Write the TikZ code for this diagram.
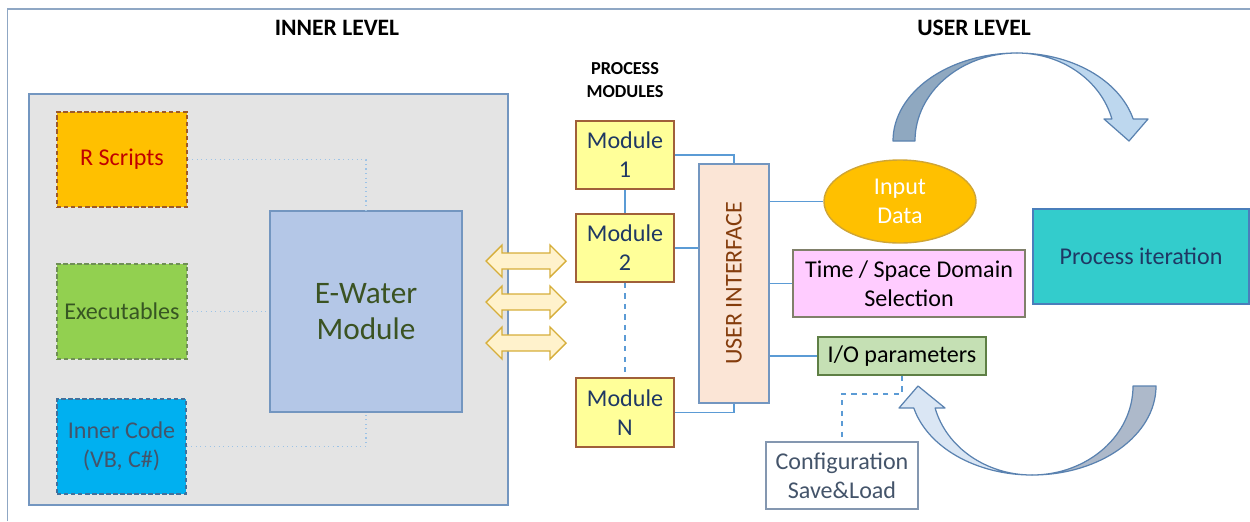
\documentclass[tikz,border=0pt]{standalone}
\usepackage{fontspec}
\setmainfont{Carlito}
\usetikzlibrary{shapes.geometric}

\definecolor{frameblue}{HTML}{8FA7C4}
\definecolor{grayfill}{HTML}{E4E4E4}
\definecolor{boxblue}{HTML}{7396C0}
\definecolor{dotblue}{HTML}{9DC3E6}
\definecolor{linkblue}{HTML}{5B9BD5}
\definecolor{rfill}{HTML}{FFC000}
\definecolor{rdraw}{HTML}{9C5A2A}
\definecolor{rtext}{HTML}{C00000}
\definecolor{exfill}{HTML}{92D050}
\definecolor{exdraw}{HTML}{6F8F55}
\definecolor{extext}{HTML}{375623}
\definecolor{icfill}{HTML}{00B0F0}
\definecolor{icdraw}{HTML}{41719C}
\definecolor{ictext}{HTML}{44546A}
\definecolor{ewfill}{HTML}{B4C7E7}
\definecolor{ewtext}{HTML}{3B5323}
\definecolor{modfill}{HTML}{FFFF99}
\definecolor{moddraw}{HTML}{A0603A}
\definecolor{navy}{HTML}{1F3864}
\definecolor{uifill}{HTML}{FBE5D6}
\definecolor{uitext}{HTML}{843C0C}
\definecolor{indraw}{HTML}{CFA535}
\definecolor{tsfill}{HTML}{FFCCFF}
\definecolor{tsdraw}{HTML}{80806A}
\definecolor{iofill}{HTML}{C5E0B4}
\definecolor{iodraw}{HTML}{5E7F45}
\definecolor{procfill}{HTML}{33CCCC}
\definecolor{procdraw}{HTML}{4A7EBB}
\definecolor{confdraw}{HTML}{8497B0}
\definecolor{dblfill}{HTML}{FFF2CC}
\definecolor{dbldraw}{HTML}{D6AE3A}
\definecolor{cvdraw}{HTML}{5A82B0}
\definecolor{cvdarkA}{HTML}{8FA8C0}
\definecolor{cvlightA}{HTML}{BDD7EE}
\definecolor{cvdarkB}{HTML}{ADB9CA}
\definecolor{cvlightB}{HTML}{DAE6F4}

\tikzset{
  every node/.style={font=\fontsize{13.7}{16.6}\selectfont, align=center, inner sep=0pt},
  box/.style={draw, line width=0.8pt, rectangle},
  dbox/.style={box, dashed, dash pattern=on 2.5pt off 1.5pt},
  dotline/.style={dotblue, line width=0.6pt, dotted},
  link/.style={linkblue, line width=0.9pt},
  dblarrow/.style={draw=dbldraw, fill=dblfill, line width=0.8pt, line join=miter},
  curvarrow/.style={draw=cvdraw, line width=0.7pt, line join=round},
  title/.style={font=\fontsize{13.4}{16}\selectfont\bfseries}
}

\begin{document}
\begin{tikzpicture}[x=0.02cm, y=-0.02cm]
\useasboundingbox (0,0) rectangle (1250,521);

% frame
\draw[frameblue, line width=1.1pt] (7.5,521) -- (7.5,9) -- (1250,9);

% titles
\node[title] (tinner) at (337,28) {INNER LEVEL};
\node[title] (tuser) at (974,28) {USER LEVEL};
\node[font=\fontsize{10.4}{13}\selectfont\bfseries] (tproc) at (625,80) {PROCESS\\MODULES};

% inner level panel
\node[box, draw=boxblue, fill=grayfill, minimum width=479*0.02cm, minimum height=411*0.02cm] (panel) at (268.5,299.5) {};

\node[dbox, draw=rdraw, fill=rfill, text=rtext, minimum width=130*0.02cm, minimum height=95*0.02cm] (rscr) at (122,159.5) {R Scripts};
\node[dbox, draw=exdraw, fill=exfill, text=extext, minimum width=130*0.02cm, minimum height=95*0.02cm] (exe) at (122,311.5) {Executables};
\node[dbox, draw=icdraw, fill=icfill, text=ictext, minimum width=129*0.02cm, minimum height=95*0.02cm] (icode) at (121.5,446.5) {Inner Code\\(VB, C\#)};
\node[box, draw=boxblue, fill=ewfill, text=ewtext, minimum width=192*0.02cm, minimum height=201*0.02cm, font=\fontsize{17.8}{20.6}\selectfont] (ewater) at (366,311.5) {E-Water\\Module};

\draw[dotline] (rscr.east) -| (ewater.north);
\draw[dotline] (exe.east) -- (ewater.west);
\draw[dotline] (icode.east) -| (ewater.south);

% exchange arrows
\foreach \yy in {261,302,343}{
  \draw[dblarrow] (486,\yy) -- ++(16,-16) -- ++(0,8) -- ++(48,0) -- ++(0,-8) -- ++(16,16)
    -- ++(-16,16) -- ++(0,-8) -- ++(-48,0) -- ++(0,8) -- cycle;
}

% process modules
\node[box, draw=moddraw, fill=modfill, text=navy, minimum width=98*0.02cm, minimum height=68*0.02cm] (mod1) at (625,155) {Module\\1};
\node[box, draw=moddraw, fill=modfill, text=navy, minimum width=98*0.02cm, minimum height=68*0.02cm] (mod2) at (625,248) {Module\\2};
\node[box, draw=moddraw, fill=modfill, text=navy, minimum width=98*0.02cm, minimum height=69*0.02cm] (modN) at (625,412.5) {Module\\N};

\draw[link] (mod1.south) -- (mod2.north);
\draw[link, dashed] (mod2.south) -- (modN.north);

% user interface
\node[box, draw=boxblue, fill=uifill, minimum width=70*0.02cm, minimum height=239*0.02cm] (ui) at (734,283.5) {};
\node[rotate=90, text=uitext] (uilabel) at (ui.center) {USER INTERFACE};

\draw[link] (mod1.east) -| (ui.north);
\draw[link] (mod2.east) -- (ui.west |- mod2.east);
\draw[link] (modN.east) -| (ui.south);

% user level items
\node[ellipse, draw=indraw, line width=0.8pt, fill=rfill, text=white, minimum width=152*0.02cm, minimum height=83*0.02cm] (input) at (900,201.5) {Input\\Data};
\node[box, draw=tsdraw, fill=tsfill, minimum width=232*0.02cm, minimum height=67*0.02cm] (tsdom) at (909,283.5) {Time / Space Domain\\Selection};
\node[box, draw=iodraw, fill=iofill, minimum width=168*0.02cm, minimum height=38*0.02cm] (iopar) at (902,356) {I/O parameters};
\node[box, draw=procdraw, fill=procfill, text=navy, minimum width=216*0.02cm, minimum height=95*0.02cm] (proc) at (1141,256.5) {Process iteration};
\node[box, draw=confdraw, fill=white, text=ictext, minimum width=152*0.02cm, minimum height=67*0.02cm] (conf) at (842,475.5) {Configuration\\Save\&Load};

\draw[link] (ui.east |- input.west) -- (input.west);
\draw[link] (ui.east |- tsdom.west) -- (tsdom.west);
\draw[link] (ui.east |- iopar.west) -- (iopar.west);
\draw[link, dashed] (iopar.south) -- ++(0,18) -| (conf.north);

% upper curved arrow (back face, then front face with head)
\draw[curvarrow, fill=cvdarkA] (893,141)
  arc[start angle=180, end angle=270, x radius=124, y radius=88]
  arc[start angle=270, end angle=180, x radius=102, y radius=88] -- cycle;
\draw[curvarrow, fill=cvlightA] (1017,53)
  arc[start angle=270, end angle=345.52, x radius=120, y radius=88]
  -- (1148,119) -- (1129,141) -- (1104,119) -- (1111.9,119)
  arc[start angle=345.52, end angle=270, x radius=98, y radius=88] -- cycle;

% lower curved arrow (back face, then front face with head)
\draw[curvarrow, fill=cvdarkB] (1156,386)
  arc[start angle=0, end angle=90, x radius=124, y radius=89]
  arc[start angle=90, end angle=0, x radius=101, y radius=89] -- cycle;
\draw[curvarrow, fill=cvlightB] (1032,475)
  arc[start angle=90, end angle=165.7, x radius=122, y radius=89]
  -- (899,408) -- (918,386) -- (945,408) -- (935.1,408)
  arc[start angle=165.7, end angle=90, x radius=100, y radius=89] -- cycle;
\end{tikzpicture}
\end{document}
